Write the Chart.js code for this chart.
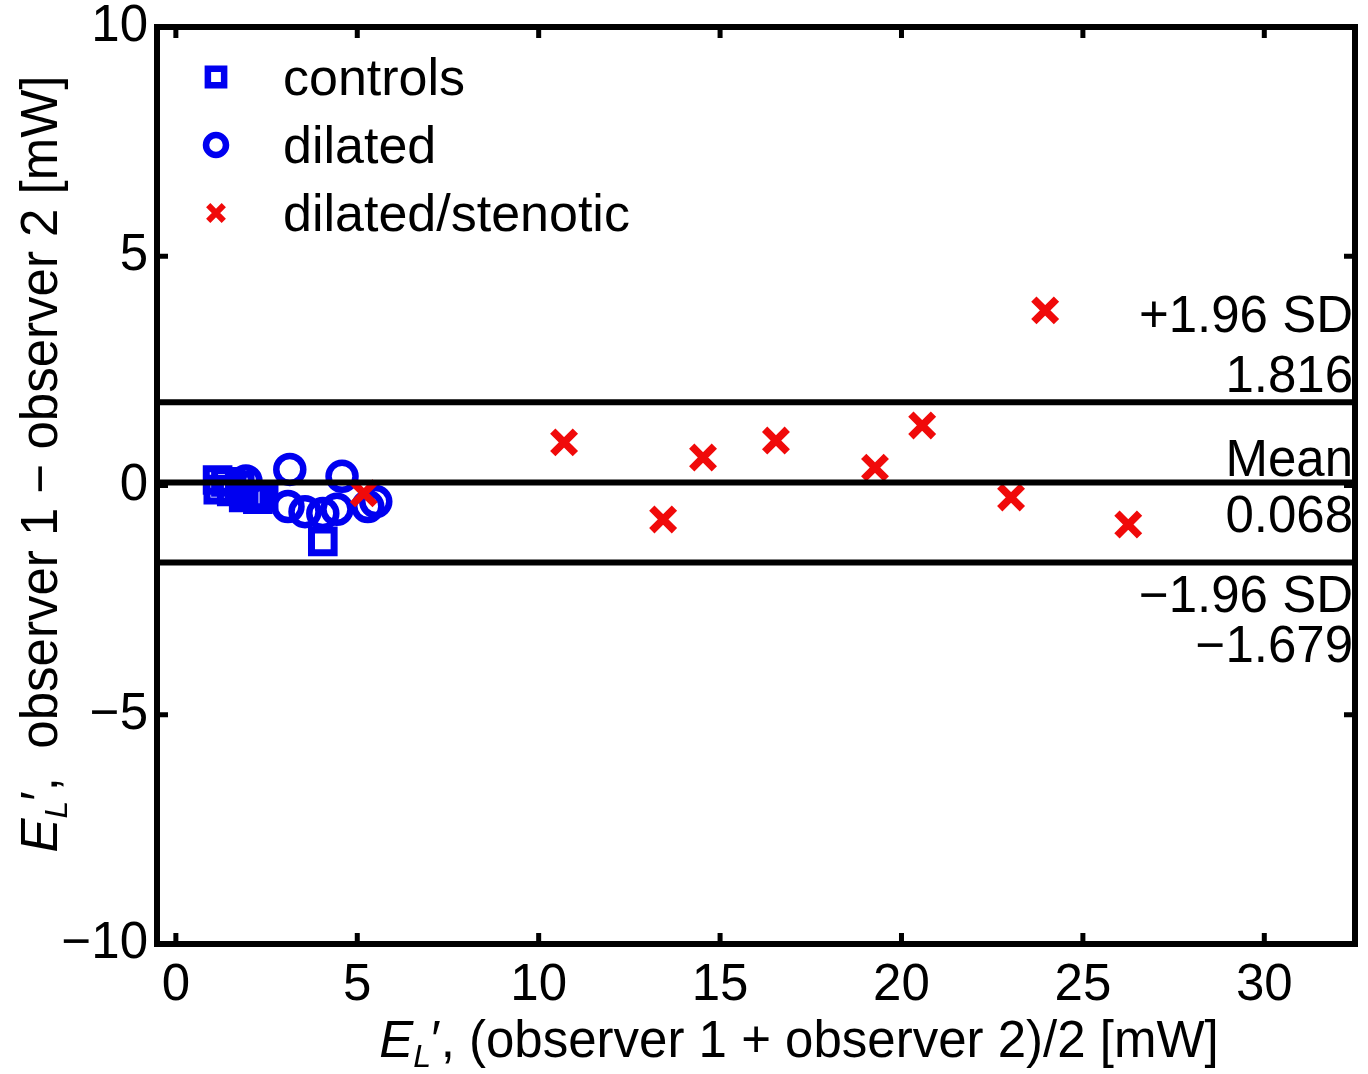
<!DOCTYPE html>
<html>
<head>
<meta charset="utf-8">
<script src="https://cdn.jsdelivr.net/npm/chart.js@4/dist/chart.umd.min.js"></script>
<style>
html,body{margin:0;padding:0;background:#ffffff;}
#wrap{width:1368px;height:1074px;}
</style>
</head>
<body>
<div id="wrap"><canvas id="c" width="1368" height="1074"></canvas></div>
<script>
// ---------- data ----------
const controlsX = [1.15, 1.17, 1.38, 1.54, 1.76, 1.87, 2.09, 2.26, 2.42, 4.05];
const controlsY = [0.12, -0.09, 0.08, -0.13, 0.00, -0.26, -0.22, -0.30, -0.22, -1.22];

const dilatedX = [1.93, 3.14, 3.09, 3.56, 4.05, 4.58, 4.44, 5.29, 5.51];
const dilatedY = [0.10, 0.35, -0.46, -0.57, -0.61, 0.20, -0.52, -0.46, -0.35];

const stenoticX = [5.18, 10.70, 13.43, 14.53, 16.54, 19.27, 20.57, 23.02, 23.96, 26.25];
const stenoticY = [-0.17, 0.94, -0.74, 0.61, 0.98, 0.39, 1.31, -0.26, 3.82, -0.85];

const seriesNames = ['controls', 'dilated', 'dilated/stenotic'];

const refValues = [1.816, 0.068, -1.679];
const refLabelsAbove = [['+1.96 SD', '1.816'], ['Mean'], []];
const refLabelsBelow = [[], ['0.068'], ['\u22121.96 SD', '\u22121.679']];

const xTicks = [0, 5, 10, 15, 20, 25, 30];
const yTicks = [-10, -5, 0, 5, 10];
const xRange = [-0.52, 32.5];
const yRange = [-10, 10];

const xTitleParts = [
  {t: 'E', it: true},
  {t: 'L', it: true, sub: true},
  {t: '\u2032, (observer 1 + observer 2)/2 [mW]'}
];
const yTitleParts = [
  {t: 'E', it: true},
  {t: 'L', it: true, sub: true},
  {t: '\u2032,  observer 1 \u2212 observer 2 [mW]'}
];

// ---------- styling ----------
const FONT = '"Liberation Sans", Arial, Helvetica, sans-serif';
const FS = 51;
const FS_LEG = 52;
const BLUE = '#0000f0';
const RED = '#f00a0a';

const pts = (xs, ys) => xs.map((x, i) => ({x: x, y: ys[i]}));

const datasets = [
  {label: seriesNames[0], data: pts(controlsX, controlsY), pointStyle: 'rect',
   pointRadius: 16, pointBorderWidth: 7, pointBorderColor: BLUE,
   pointBackgroundColor: 'rgba(0,0,0,0)', order: 3,
   legendRadius: 11.5, legendBorder: 6.5},
  {label: seriesNames[1], data: pts(dilatedX, dilatedY), pointStyle: 'circle',
   pointRadius: 13.5, pointBorderWidth: 6.5, pointBorderColor: BLUE,
   pointBackgroundColor: 'rgba(0,0,0,0)', order: 2,
   legendRadius: 10, legendBorder: 6.5},
  {label: seriesNames[2], data: pts(stenoticX, stenoticY), pointStyle: 'crossRot',
   pointRadius: 16, pointBorderWidth: 7.5, pointBorderColor: RED,
   pointBackgroundColor: RED, order: 1,
   legendRadius: 11, legendBorder: 6}
];
refValues.forEach(v => {
  datasets.push({
    label: 'ref', type: 'line', showLine: true,
    data: [{x: xRange[0], y: v}, {x: xRange[1], y: v}],
    borderColor: '#000', borderWidth: 6, pointRadius: 0, order: 0, isRef: true
  });
});

function fontStr(size, italic) {
  return (italic ? 'italic ' : '') + size + 'px ' + FONT;
}
function richMeasure(ctx, parts, size) {
  let w = 0;
  parts.forEach(p => {
    ctx.font = fontStr(p.sub ? Math.round(size * 0.62) : size, p.it);
    w += ctx.measureText(p.t).width;
  });
  return w;
}
function richDraw(ctx, parts, x, y, size) {
  let cx = x;
  parts.forEach(p => {
    const s = p.sub ? Math.round(size * 0.62) : size;
    ctx.font = fontStr(s, p.it);
    ctx.fillText(p.t, cx, p.sub ? y + size * 0.2 : y);
    cx += ctx.measureText(p.t).width;
  });
}

const decor = {
  id: 'decor',
  afterDraw(chart) {
    const ctx = chart.ctx;
    const a = chart.chartArea;
    const xs = chart.scales.x, ys = chart.scales.y;
    ctx.save();
    ctx.fillStyle = '#000';
    ctx.strokeStyle = '#000';

    // reference line labels
    ctx.textAlign = 'right';
    ctx.textBaseline = 'alphabetic';
    ctx.font = fontStr(FS, false);
    const rx = a.right - 2;
    refValues.forEach((v, i) => {
      const py = ys.getPixelForValue(v);
      const above = refLabelsAbove[i];
      above.forEach((t, j) => {
        const k = above.length - 1 - j;
        const off = (i === 1) ? -6 : -10;
        ctx.fillText(t, rx, py + off - k * 60);
      });
      refLabelsBelow[i].forEach((t, j) => {
        ctx.fillText(t, rx, py + 50 + j * 50);
      });
    });

    // frame
    ctx.lineWidth = 6;
    ctx.strokeRect(a.left, a.top, a.right - a.left, a.bottom - a.top);
    // inward ticks
    ctx.lineWidth = 5;
    xTicks.forEach(v => {
      const px = xs.getPixelForValue(v);
      ctx.beginPath();
      ctx.moveTo(px, a.bottom); ctx.lineTo(px, a.bottom - 11);
      ctx.moveTo(px, a.top); ctx.lineTo(px, a.top + 11);
      ctx.stroke();
    });
    yTicks.forEach(v => {
      const py = ys.getPixelForValue(v);
      ctx.beginPath();
      ctx.moveTo(a.left, py); ctx.lineTo(a.left + 11, py);
      ctx.moveTo(a.right, py); ctx.lineTo(a.right - 11, py);
      ctx.stroke();
    });

    // legend
    const lx = a.left + 59, ly0 = a.top + 50, dy = 68;
    chart.data.datasets.filter(d => !d.isRef).forEach((d, i) => {
      const cy = ly0 + i * dy;
      ctx.lineWidth = d.legendBorder;
      ctx.strokeStyle = d.pointBorderColor;
      ctx.fillStyle = 'rgba(0,0,0,0)';
      Chart.helpers.drawPoint(ctx, {pointStyle: d.pointStyle, rotation: 0, radius: d.legendRadius, borderWidth: d.legendBorder}, lx, cy);
      ctx.fillStyle = '#000';
      ctx.font = fontStr(FS_LEG, false);
      ctx.textAlign = 'left';
      ctx.textBaseline = 'alphabetic';
      ctx.fillText(d.label, a.left + 126, cy + 18);
    });

    // axis titles
    ctx.fillStyle = '#000';
    ctx.textAlign = 'left';
    ctx.textBaseline = 'alphabetic';
    const xw = richMeasure(ctx, xTitleParts, FS);
    richDraw(ctx, xTitleParts, 799 - xw / 2, 1057, FS);

    const yw = richMeasure(ctx, yTitleParts, FS);
    ctx.translate(57, 464);
    ctx.rotate(-Math.PI / 2);
    richDraw(ctx, yTitleParts, -yw / 2, 0, FS);
    ctx.restore();
  }
};

const minusFmt = v => String(v).replace('-', '\u2212');
const zeroPad = s => { s.paddingTop = 0; s.paddingBottom = 0; s.paddingLeft = 0; s.paddingRight = 0; };

new Chart(document.getElementById('c'), {
  type: 'scatter',
  data: {datasets: datasets},
  options: {
    responsive: false,
    devicePixelRatio: 1,
    animation: false,
    events: [],
    layout: {autoPadding: false, padding: {top: 27, right: 13, left: 0, bottom: 0}},
    plugins: {legend: {display: false}, tooltip: {enabled: false}},
    scales: {
      x: {
        type: 'linear', min: xRange[0], max: xRange[1],
        grid: {display: false, drawTicks: false}, border: {display: false},
        afterBuildTicks: s => { s.ticks = xTicks.map(v => ({value: v})); },
        afterFit: s => { s.height = 130; zeroPad(s); },
        ticks: {color: '#000', font: {family: FONT, size: FS, lineHeight: 1}, padding: 16, maxRotation: 0, autoSkip: false, callback: minusFmt}
      },
      y: {
        type: 'linear', min: yRange[0], max: yRange[1],
        grid: {display: false, drawTicks: false}, border: {display: false},
        afterBuildTicks: s => { s.ticks = yTicks.map(v => ({value: v})); },
        afterFit: s => { s.width = 157; zeroPad(s); },
        ticks: {color: '#000', font: {family: FONT, size: FS, lineHeight: 1}, padding: 9, autoSkip: false, callback: minusFmt}
      }
    }
  },
  plugins: [decor]
});
</script>
</body>
</html>
